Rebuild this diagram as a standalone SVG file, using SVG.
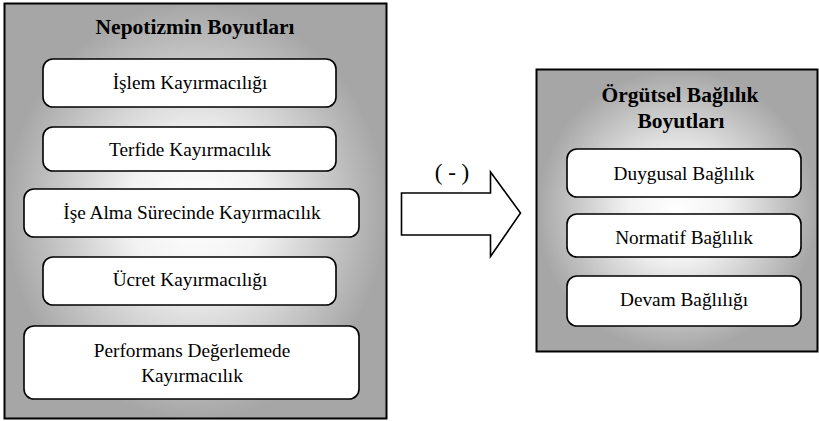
<svg xmlns="http://www.w3.org/2000/svg" width="819" height="421" viewBox="0 0 819 421">
  <defs>
    <radialGradient id="bg" cx="50%" cy="50%" r="50%" fx="50%" fy="50%">
      <stop offset="0" stop-color="#ffffff"/>
      <stop offset="0.35" stop-color="#f2f2f2"/>
      <stop offset="1" stop-color="#a6a6a6"/>
    </radialGradient>
  </defs>
  <style>
    .panel { fill: url(#bg); stroke: #000; stroke-width: 2; }
    .item { fill: #fff; stroke: #000; stroke-width: 1.6; }
    .title { font-family: "Liberation Serif", "Times New Roman", serif; font-weight: bold; font-size: 21.5px; fill: #000; text-anchor: middle; }
    .label { font-family: "Liberation Serif", "Times New Roman", serif; font-size: 19.3px; fill: #000; text-anchor: middle; }
    .sign { font-family: "Liberation Serif", "Times New Roman", serif; font-size: 23px; fill: #000; text-anchor: middle; }
    .arrow { fill: #fff; stroke: #000; stroke-width: 1.6; stroke-linejoin: miter; }
  </style>
  <rect width="819" height="421" fill="#fff"/>

  <g id="nepotizm">
    <rect class="panel" x="4.5" y="3.5" width="382" height="415"/>
    <text class="title" x="195" y="34">Nepotizmin Boyutları</text>
    <g id="islem">
      <rect class="item" x="43" y="59" width="293" height="48" rx="10"/>
      <text class="label" x="190" y="89">İşlem Kayırmacılığı</text>
    </g>
    <g id="terfide">
      <rect class="item" x="43" y="127" width="293" height="44" rx="10"/>
      <text class="label" x="190" y="156">Terfide Kayırmacılık</text>
    </g>
    <g id="isealma">
      <rect class="item" x="24" y="189" width="335" height="48" rx="10"/>
      <text class="label" x="192" y="219">İşe Alma Sürecinde Kayırmacılık</text>
    </g>
    <g id="ucret">
      <rect class="item" x="43" y="257" width="293" height="48" rx="10"/>
      <text class="label" x="190" y="286">Ücret Kayırmacılığı</text>
    </g>
    <g id="performans">
      <rect class="item" x="24" y="326" width="335" height="73" rx="10"/>
      <text class="label" x="192" y="357">Performans Değerlemede</text>
      <text class="label" x="192" y="382">Kayırmacılık</text>
    </g>
  </g>

  <g id="connectors">
    <polygon class="arrow" points="401.5,193 490.5,193 490.5,172 520.5,213 490.5,256.5 490.5,235 401.5,235"/>
    <text class="sign" x="452" y="180">( - )</text>
  </g>

  <g id="orgutsel">
    <rect class="panel" x="536.5" y="69.5" width="281" height="282"/>
    <text class="title" x="680" y="102">Örgütsel Bağlılık</text>
    <text class="title" x="681" y="128">Boyutları</text>
    <g id="duygusal">
      <rect class="item" x="567" y="149" width="234" height="48" rx="10"/>
      <text class="label" x="684" y="180">Duygusal Bağlılık</text>
    </g>
    <g id="normatif">
      <rect class="item" x="567" y="214" width="234" height="43" rx="10"/>
      <text class="label" x="684" y="244">Normatif Bağlılık</text>
    </g>
    <g id="devam">
      <rect class="item" x="567" y="276" width="234" height="50" rx="10"/>
      <text class="label" x="684" y="306">Devam Bağlılığı</text>
    </g>
  </g>
</svg>
